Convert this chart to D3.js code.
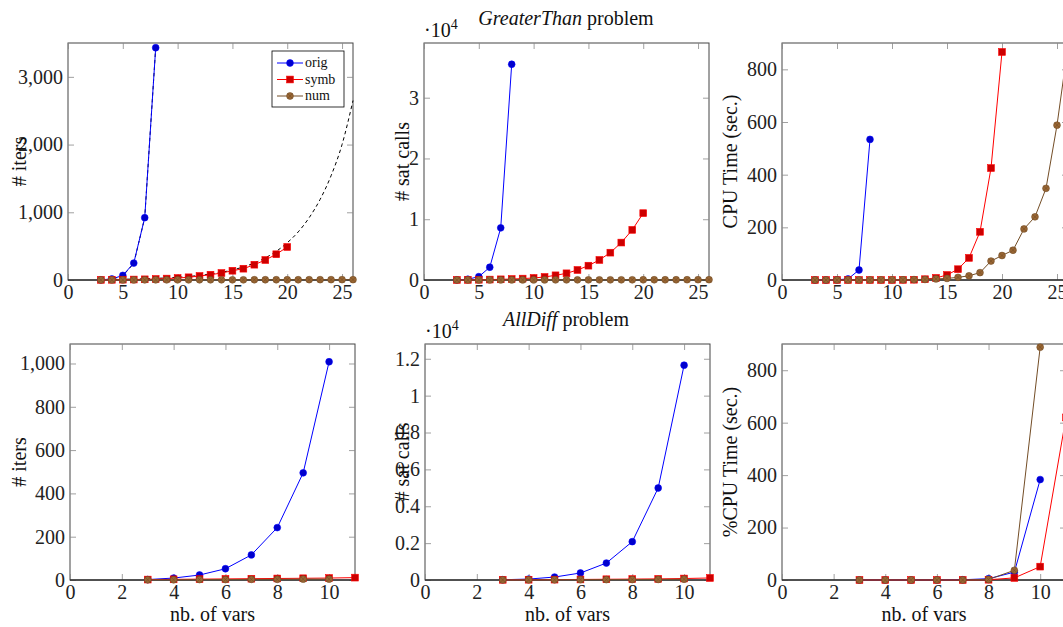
<!DOCTYPE html>
<html>
<head>
<meta charset="utf-8">
<script src="https://cdn.jsdelivr.net/npm/d3@7"></script>
<style>
  body { margin: 0; background: #fff; }
  svg text { font-family: "Liberation Serif", "DejaVu Serif", serif; }
</style>
</head>
<body>
<script>
// --- data ---
// GreaterThan problem, x = nb. of vars
const gtOrigX = [3, 4, 5, 6, 7, 8];
const gtSymbX = d3.range(3, 21);
const gtNumX = d3.range(3, 27);

const gtItersOrig = [3, 15, 68, 250, 920, 3430];
const gtItersSymb = [2, 3, 5, 7, 10, 15, 21, 29, 40, 59, 78, 103, 137, 167, 226, 295, 380, 487];
const gtItersNum = [1, 1, 1, 1, 2, 2, 2, 2, 2, 3, 3, 3, 3, 3, 4, 4, 4, 4, 4, 5, 5, 5, 5, 5];
// dashed reference curves in the first panel
const gtBoundAX = [3, 4, 5, 6, 7, 8];
const gtBoundA = [4, 15, 62, 245, 920, 3430];
const gtBoundBX = d3.range(3, 27);
const gtBoundB = [6, 8, 11, 14, 18, 24, 31, 40, 52, 68, 88, 114, 148, 193, 251, 326, 424, 550, 710, 920, 1190, 1540, 2000, 2650];

const gtSatOrig = [30, 120, 550, 2100, 8580, 35500];
const gtSatSymb = [10, 20, 40, 70, 110, 160, 230, 330, 500, 770, 1100, 1650, 2360, 3300, 4500, 6160, 8250, 11000];
const gtSatNum = [5, 6, 8, 10, 12, 14, 16, 18, 20, 22, 24, 26, 28, 30, 32, 34, 36, 38, 40, 42, 44, 46, 48, 50];

const gtCpuOrig = [0, 0, 1, 4, 38, 534];
const gtCpuSymb = [0, 0, 0, 0, 0, 0, 0, 0, 0.5, 1, 3, 8, 19, 41, 84, 183, 425, 866];
const gtCpuNum = [0.1, 0.1, 0.2, 0.2, 0.3, 0.4, 0.5, 0.7, 1, 1.5, 2, 4, 6, 10, 16, 28, 72, 93, 113, 194, 240, 348, 588, 890];

// AllDiff problem
const adOrigX = d3.range(3, 11);
const adSymbX = d3.range(3, 12);
const adNumX = d3.range(3, 11);

const adItersOrig = [2, 9, 23, 52, 116, 242, 495, 1008];
const adItersSymb = [2, 3, 4, 5, 6, 7, 8, 9, 11];
const adItersNum = [1, 1, 2, 2, 3, 3, 4, 4];

const adSatOrig = [15, 50, 160, 380, 920, 2080, 4990, 11650];
const adSatSymb = [10, 15, 20, 30, 40, 50, 60, 80, 110];
const adSatNum = [5, 8, 12, 16, 20, 25, 30, 40];

const adCpuOrig = [0, 0, 0, 0, 1, 5, 30, 383];
const adCpuSymb = [0, 0, 0, 0, 0, 1, 8, 51, 620];
const adCpuNum = [0, 0, 0, 0, 0, 2, 37, 888];

const seriesNames = ["orig", "symb", "num"];

const W = 1063, H = 627;
const FONT = "'Liberation Serif', 'DejaVu Serif', serif";
const svg = d3.select("body").append("svg")
    .attr("width", W)
    .attr("height", H)
    .attr("font-family", FONT);

const zip = (xs, ys) => xs.map((x, i) => [x, ys[i]]);

// pgfplots default cycle: blue circles, red squares, brown otimes
const styles = [
    { line: "#0000ff", fill: "#0000cc", mark: "circle" },
    { line: "#ff0000", fill: "#cc0000", mark: "square" },
    { line: "#734d26", fill: "#996633", mark: "otimes" }
];

function drawMark(g, type, st, x, y) {
    if (type === "circle") {
        g.append("circle").attr("cx", x).attr("cy", y).attr("r", 3.4)
            .attr("fill", st.fill).attr("stroke", st.line).attr("stroke-width", 0.6);
    } else if (type === "square") {
        g.append("rect").attr("x", x - 3.4).attr("y", y - 3.4)
            .attr("width", 6.8).attr("height", 6.8)
            .attr("fill", st.fill).attr("stroke", st.line).attr("stroke-width", 0.6);
    } else {
        g.append("circle").attr("cx", x).attr("cy", y).attr("r", 3.4)
            .attr("fill", st.fill).attr("stroke", st.line).attr("stroke-width", 0.6);
        const d = 2.4;
        g.append("path")
            .attr("d", `M${x - d},${y - d}L${x + d},${y + d}M${x - d},${y + d}L${x + d},${y - d}`)
            .attr("stroke", st.line).attr("stroke-width", 0.6);
    }
}

function drawPanel(cfg) {
    const g = svg.append("g");
    const x = d3.scaleLinear().domain(cfg.xDomain).range([cfg.left, cfg.left + cfg.width]);
    const y = d3.scaleLinear().domain(cfg.yDomain).range([cfg.bottom, cfg.top]);

    // frame
    g.append("rect")
        .attr("x", cfg.left).attr("y", cfg.top)
        .attr("width", cfg.width).attr("height", cfg.bottom - cfg.top)
        .attr("fill", "none").attr("stroke", "#444").attr("stroke-width", 1);

    // axes (ticks inside, mirrored)
    const tl = 6;
    const xb = g.append("g").attr("transform", `translate(0,${cfg.bottom})`)
        .call(d3.axisBottom(x).tickValues(cfg.xTicks).tickSize(-tl).tickPadding(5).tickFormat(d3.format("d")));
    const xt = g.append("g").attr("transform", `translate(0,${cfg.top})`)
        .call(d3.axisTop(x).tickValues(cfg.xTicks).tickSize(-tl).tickFormat(""));
    const yl = g.append("g").attr("transform", `translate(${cfg.left},0)`)
        .call(d3.axisLeft(y).tickValues(cfg.yTicks).tickSize(-tl).tickPadding(5).tickFormat(cfg.yFormat));
    const yr = g.append("g").attr("transform", `translate(${cfg.left + cfg.width},0)`)
        .call(d3.axisRight(y).tickValues(cfg.yTicks).tickSize(-tl).tickFormat(""));
    [xb, xt, yl, yr].forEach(a => {
        a.attr("font-family", FONT);
        a.select(".domain").remove();
        a.selectAll(".tick line").attr("stroke", "#888").attr("stroke-width", 0.8);
        a.selectAll("text").attr("font-size", 20).attr("fill", "#222");
    });
    // bottom line drawn darker, like the reference
    g.append("line")
        .attr("x1", cfg.left).attr("x2", cfg.left + cfg.width)
        .attr("y1", cfg.bottom).attr("y2", cfg.bottom)
        .attr("stroke", "#000").attr("stroke-width", 1.2);

    // dashed reference curves
    const line = d3.line().x(d => x(d[0])).y(d => y(d[1]));
    (cfg.dashed || []).forEach(dd => {
        g.append("path").datum(zip(dd.xs, dd.ys))
            .attr("d", line.curve(dd.smooth ? d3.curveMonotoneX : d3.curveLinear))
            .attr("fill", "none").attr("stroke", "#000")
            .attr("stroke-width", 1).attr("stroke-dasharray", "3.5,3");
    });
    line.curve(d3.curveLinear);

    // series
    cfg.series.forEach((s, i) => {
        const st = styles[i];
        const pts = zip(s.xs, s.ys);
        const sg = g.append("g");
        sg.append("path").datum(pts)
            .attr("d", line)
            .attr("fill", "none").attr("stroke", st.line).attr("stroke-width", 1);
        pts.forEach(p => drawMark(sg, st.mark, st, x(p[0]), y(p[1])));
    });

    // axis labels
    g.append("text")
        .attr("transform", `translate(${cfg.yLabelX},${(cfg.top + cfg.bottom) / 2}) rotate(-90)`)
        .attr("text-anchor", "middle").attr("dy", "0.35em")
        .attr("font-size", 20).attr("fill", "#111")
        .text(cfg.yLabel);
    if (cfg.xLabel) {
        g.append("text")
            .attr("x", cfg.left + cfg.width / 2).attr("y", cfg.bottom + 41)
            .attr("text-anchor", "middle")
            .attr("font-size", 20).attr("fill", "#111")
            .text(cfg.xLabel);
    }
    if (cfg.scaleLabel) {
        const t = g.append("text").attr("x", cfg.left).attr("y", cfg.top - 6)
            .attr("font-size", 20).attr("fill", "#111");
        t.append("tspan").text("\u00b710");
        t.append("tspan").attr("font-size", 14).attr("dy", -8).text("4");
    }
    return { g, x, y };
}

const topRow = { top: 43, bottom: 280 };
const botRow = { top: 344, bottom: 580 };
const commaFmt = d3.format(",");
const plainFmt = d => String(+d.toFixed(1));

const p1 = drawPanel({
    left: 68, width: 285, ...topRow,
    xDomain: [0, 26], yDomain: [0, 3500],
    xTicks: [0, 5, 10, 15, 20, 25], yTicks: [0, 1000, 2000, 3000], yFormat: commaFmt,
    yLabel: "# iters", yLabelX: 19,
    dashed: [{ xs: gtBoundAX, ys: gtBoundA, smooth: false }, { xs: gtBoundBX, ys: gtBoundB, smooth: true }],
    series: [
        { xs: gtOrigX, ys: gtItersOrig },
        { xs: gtSymbX, ys: gtItersSymb },
        { xs: gtNumX, ys: gtItersNum }
    ]
});

drawPanel({
    left: 424, width: 285, ...topRow,
    xDomain: [0, 26], yDomain: [0, 3.9],
    xTicks: [0, 5, 10, 15, 20, 25], yTicks: [0, 1, 2, 3], yFormat: plainFmt,
    yLabel: "# sat calls", yLabelX: 402, scaleLabel: true,
    series: [
        { xs: gtOrigX, ys: gtSatOrig.map(v => v / 1e4) },
        { xs: gtSymbX, ys: gtSatSymb.map(v => v / 1e4) },
        { xs: gtNumX, ys: gtSatNum.map(v => v / 1e4) }
    ]
});

drawPanel({
    left: 782, width: 286, ...topRow,
    xDomain: [0, 26], yDomain: [0, 900],
    xTicks: [0, 5, 10, 15, 20, 25], yTicks: [0, 200, 400, 600, 800], yFormat: commaFmt,
    yLabel: "CPU Time (sec.)", yLabelX: 730,
    series: [
        { xs: gtOrigX, ys: gtCpuOrig },
        { xs: gtSymbX, ys: gtCpuSymb },
        { xs: gtNumX, ys: gtCpuNum }
    ]
});

drawPanel({
    left: 70, width: 285, ...botRow,
    xDomain: [0, 11], yDomain: [0, 1090],
    xTicks: [0, 2, 4, 6, 8, 10], yTicks: [0, 200, 400, 600, 800, 1000], yFormat: commaFmt,
    yLabel: "# iters", yLabelX: 19, xLabel: "nb. of vars",
    series: [
        { xs: adOrigX, ys: adItersOrig },
        { xs: adSymbX, ys: adItersSymb },
        { xs: adNumX, ys: adItersNum }
    ]
});

drawPanel({
    left: 425, width: 285, ...botRow,
    xDomain: [0, 11], yDomain: [0, 1.28],
    xTicks: [0, 2, 4, 6, 8, 10], yTicks: [0, 0.2, 0.4, 0.6, 0.8, 1, 1.2], yFormat: plainFmt,
    yLabel: "# sat calls", yLabelX: 402, xLabel: "nb. of vars", scaleLabel: true,
    series: [
        { xs: adOrigX, ys: adSatOrig.map(v => v / 1e4) },
        { xs: adSymbX, ys: adSatSymb.map(v => v / 1e4) },
        { xs: adNumX, ys: adSatNum.map(v => v / 1e4) }
    ]
});

drawPanel({
    left: 782, width: 284, ...botRow,
    xDomain: [0, 11], yDomain: [0, 900],
    xTicks: [0, 2, 4, 6, 8, 10], yTicks: [0, 200, 400, 600, 800], yFormat: commaFmt,
    yLabel: "%CPU Time (sec.)", yLabelX: 730, xLabel: "nb. of vars",
    series: [
        { xs: adOrigX, ys: adCpuOrig },
        { xs: adSymbX, ys: adCpuSymb },
        { xs: adNumX, ys: adCpuNum }
    ]
});

// titles
function title(cx, cy, it, rest) {
    const t = svg.append("text").attr("x", cx).attr("y", cy)
        .attr("text-anchor", "middle").attr("font-size", 20).attr("fill", "#111");
    t.append("tspan").attr("font-style", "italic").text(it);
    t.append("tspan").text(rest);
}
title(566, 25, "GreaterThan", " problem");
title(566, 326, "AllDiff", " problem");

// legend in the first panel
const lg = p1.g.append("g");
lg.append("rect").attr("x", 272).attr("y", 51).attr("width", 72).attr("height", 56)
    .attr("fill", "#fff").attr("stroke", "#000").attr("stroke-width", 0.8);
seriesNames.forEach((name, i) => {
    const yy = 63 + i * 16.5;
    const st = styles[i];
    lg.append("line").attr("x1", 277).attr("x2", 303).attr("y1", yy).attr("y2", yy)
        .attr("stroke", st.line).attr("stroke-width", 1);
    drawMark(lg, st.mark, st, 290, yy);
    lg.append("text").attr("x", 305).attr("y", yy).attr("dy", "0.32em")
        .attr("font-size", 14).attr("fill", "#111").text(name);
});
</script>
</body>
</html>
